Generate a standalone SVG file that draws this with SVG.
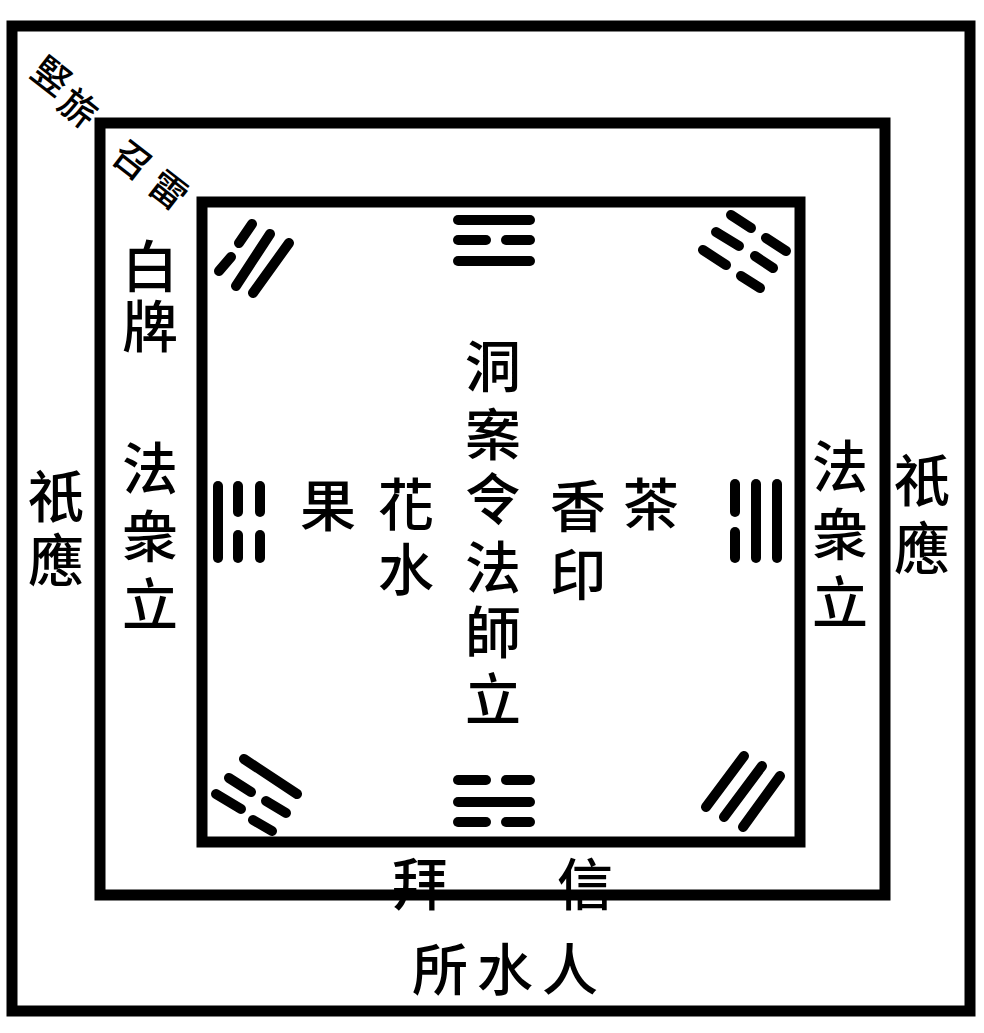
<svg xmlns="http://www.w3.org/2000/svg" width="984" height="1033" viewBox="0 0 984 1033">
<style>
.frame{fill:none;stroke:#000;stroke-width:11}
.t{font-family:"Noto Sans CJK TC","Noto Sans CJK SC",sans-serif;font-size:56px;font-weight:500;fill:#000;text-anchor:middle;dominant-baseline:central}
.s{font-size:37px}
.g line{stroke:#000;stroke-width:10;stroke-linecap:round}
</style>
<rect width="984" height="1033" fill="#fff"/>
<g id="frames">
<rect id="outer" class="frame" x="12" y="26" width="958" height="985"/>
<rect id="middle" class="frame" x="100" y="123" width="785" height="772"/>
<rect id="inner" class="frame" x="202" y="202" width="598" height="640"/>
</g>
<g id="corner-labels">
<text class="t s" transform="translate(53,74) rotate(38)">竪</text>
<text class="t s" transform="translate(80,106) rotate(38)">旂</text>
<text class="t s" transform="translate(134,158) rotate(38)">召</text>
<text class="t s" transform="translate(170,188) rotate(38)">雷</text>
</g>
<g id="left-labels">
<text class="t" x="150" y="262">白</text>
<text class="t" x="150" y="322">牌</text>
<text class="t" x="150" y="464">法</text>
<text class="t" x="150" y="532">衆</text>
<text class="t" x="150" y="600">立</text>
<text class="t" x="56" y="492">祇</text>
<text class="t" x="56" y="556">應</text>
</g>
<g id="right-labels">
<text class="t" x="840" y="462">法</text>
<text class="t" x="840" y="530">衆</text>
<text class="t" x="840" y="598">立</text>
<text class="t" x="922" y="476">祇</text>
<text class="t" x="922" y="544">應</text>
</g>
<g id="center-labels">
<text class="t" x="493" y="362">洞</text>
<text class="t" x="493" y="430">案</text>
<text class="t" x="493" y="495">令</text>
<text class="t" x="493" y="563">法</text>
<text class="t" x="493" y="628">師</text>
<text class="t" x="493" y="695">立</text>
<text class="t" x="328" y="501">果</text>
<text class="t" x="406" y="500">花</text>
<text class="t" x="406" y="565">水</text>
<text class="t" x="578" y="502">香</text>
<text class="t" x="578" y="570">印</text>
<text class="t" x="651" y="500">茶</text>
</g>
<g id="bottom-labels">
<text class="t" x="420" y="880">拜</text>
<text class="t" x="585" y="880">信</text>
<text class="t" x="440" y="965">所</text>
<text class="t" x="505" y="965">水</text>
<text class="t" x="570" y="965">人</text>
</g>
<g id="trigrams" class="g">
<g id="tri-top">
<line x1="458" y1="220" x2="530" y2="220"/>
<line x1="458" y1="240" x2="486" y2="240"/>
<line x1="506" y1="240" x2="530" y2="240"/>
<line x1="458" y1="261" x2="530" y2="261"/>
</g>
<g id="tri-bottom">
<line x1="458" y1="780" x2="486" y2="780"/>
<line x1="506" y1="780" x2="530" y2="780"/>
<line x1="458" y1="802" x2="530" y2="802"/>
<line x1="458" y1="822" x2="486" y2="822"/>
<line x1="506" y1="822" x2="530" y2="822"/>
</g>
<g id="tri-left">
<line x1="218" y1="486" x2="218" y2="558"/>
<line x1="238" y1="486" x2="238" y2="512"/>
<line x1="238" y1="535" x2="238" y2="558"/>
<line x1="260" y1="486" x2="260" y2="512"/>
<line x1="260" y1="535" x2="260" y2="558"/>
</g>
<g id="tri-right">
<line x1="735" y1="484" x2="735" y2="512"/>
<line x1="735" y1="532" x2="735" y2="558"/>
<line x1="756" y1="484" x2="756" y2="558"/>
<line x1="777" y1="484" x2="777" y2="558"/>
</g>
<g id="tri-top-left">
<line x1="219" y1="271" x2="231" y2="257"/>
<line x1="239" y1="243" x2="252" y2="224"/>
<line x1="236" y1="286" x2="270" y2="234"/>
<line x1="253" y1="293" x2="289" y2="243"/>
</g>
<g id="tri-top-right">
<line x1="731" y1="215" x2="751" y2="228"/>
<line x1="766" y1="238" x2="786" y2="251"/>
<line x1="716" y1="232" x2="739" y2="246"/>
<line x1="755" y1="256" x2="773" y2="268"/>
<line x1="703" y1="250" x2="726" y2="265"/>
<line x1="741" y1="276" x2="760" y2="288"/>
</g>
<g id="tri-bottom-left">
<line x1="244" y1="759" x2="297" y2="794"/>
<line x1="229" y1="778" x2="251" y2="792"/>
<line x1="266" y1="801" x2="286" y2="813"/>
<line x1="216" y1="794" x2="241" y2="809"/>
<line x1="253" y1="820" x2="272" y2="831"/>
</g>
<g id="tri-bottom-right">
<line x1="706" y1="807" x2="744" y2="756"/>
<line x1="724" y1="817" x2="762" y2="766"/>
<line x1="743" y1="827" x2="780" y2="776"/>
</g>
</g>
</svg>
